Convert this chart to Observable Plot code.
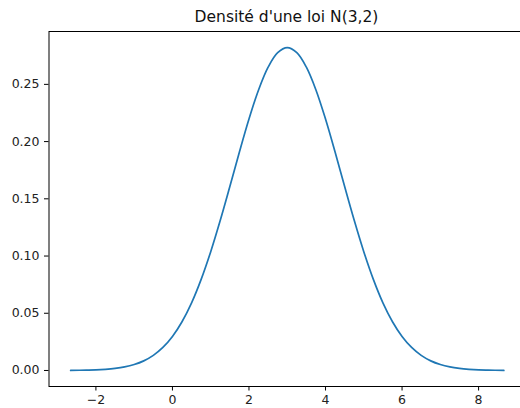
<!DOCTYPE html>
<html>
<head>
<meta charset="utf-8">
<script src="https://cdn.jsdelivr.net/npm/d3@7"></script>
<script src="https://cdn.jsdelivr.net/npm/@observablehq/plot@0.6"></script>
<style>
  html, body { margin: 0; padding: 0; background: #fff; overflow: hidden; }
  #wrap { position: relative; width: 520px; height: 408px; overflow: hidden; }
  #title {
    position: absolute; left: 0; width: 573px; top: 9.5px;
    text-align: center; font-family: "DejaVu Sans", sans-serif;
    font-size: 15.5px; line-height: 1; color: #111;
  }
  #wrap svg { position: absolute; left: 0; top: 0; max-width: none !important; }
</style>
</head>
<body>
<div id="wrap">
  <div id="title">Densité d'une loi N(3,2)</div>
</div>
<script>
// Density of N(3, 2): sampled points along the curve
const xs = [-2.66, -2.25, -2, -1.75, -1.5, -1.25, -1, -0.75, -0.5, -0.25,
            0, 0.25, 0.5, 0.75, 1, 1.25, 1.5, 1.75, 2, 2.25, 2.5, 2.75,
            3, 3.25, 3.5, 3.75, 4, 4.25, 4.5, 4.75, 5, 5.25, 5.5, 5.75,
            6, 6.25, 6.5, 6.75, 7, 7.25, 7.5, 7.75, 8, 8.25, 8.66];
const ys = [0.0001, 0.0003, 0.0005, 0.0010, 0.0018, 0.0031, 0.0052, 0.0084, 0.0132, 0.0201,
            0.0297, 0.0426, 0.0591, 0.0796, 0.1038, 0.1312, 0.1607, 0.1909, 0.2197, 0.2451, 0.2650, 0.2777,
            0.2821, 0.2777, 0.2650, 0.2451, 0.2197, 0.1909, 0.1607, 0.1312, 0.1038, 0.0796, 0.0591, 0.0426,
            0.0297, 0.0201, 0.0132, 0.0084, 0.0052, 0.0031, 0.0018, 0.0010, 0.0005, 0.0003, 0.0001];
const xTicks = [-2, 0, 2, 4, 6, 8];
const yTicks = [0, 0.05, 0.10, 0.15, 0.20, 0.25];

const points = xs.map((x, i) => ({x, y: ys[i]}));

// matplotlib-style 5% padding around the data range
const xMin = d3.min(xs), xMax = d3.max(xs);
const yMin = d3.min(ys), yMax = d3.max(ys);
const xPad = (xMax - xMin) * 0.05, yPad = (yMax - yMin) * 0.05;

const minus = d => d < 0 ? "\u2212" + Math.abs(d) : String(d);

const chart = Plot.plot({
  width: 540,
  height: 408,
  marginLeft: 48.5,
  marginRight: 15,
  marginTop: 31,
  marginBottom: 22,
  style: {fontFamily: "DejaVu Sans, sans-serif", fontSize: "12.5px", color: "#222", background: "transparent", maxWidth: "none"},
  x: {domain: [xMin - xPad, xMax + xPad]},
  y: {domain: [yMin - yPad, yMax + yPad]},
  marks: [
    Plot.line(points, {x: "x", y: "y", stroke: "#1f77b4", strokeWidth: 1.7, curve: "catmull-rom"}),
    Plot.frame({stroke: "#000", strokeWidth: 1}),
    Plot.axisX(xTicks, {tickSize: 4.5, tickPadding: 4.5, tickFormat: minus, label: null, stroke: "#000", fill: "#222"}),
    Plot.axisY(yTicks, {tickSize: 4.5, tickPadding: 5, tickFormat: d => d.toFixed(2), label: null, stroke: "#000", fill: "#222"})
  ]
});
document.getElementById("wrap").appendChild(chart);
</script>
</body>
</html>
